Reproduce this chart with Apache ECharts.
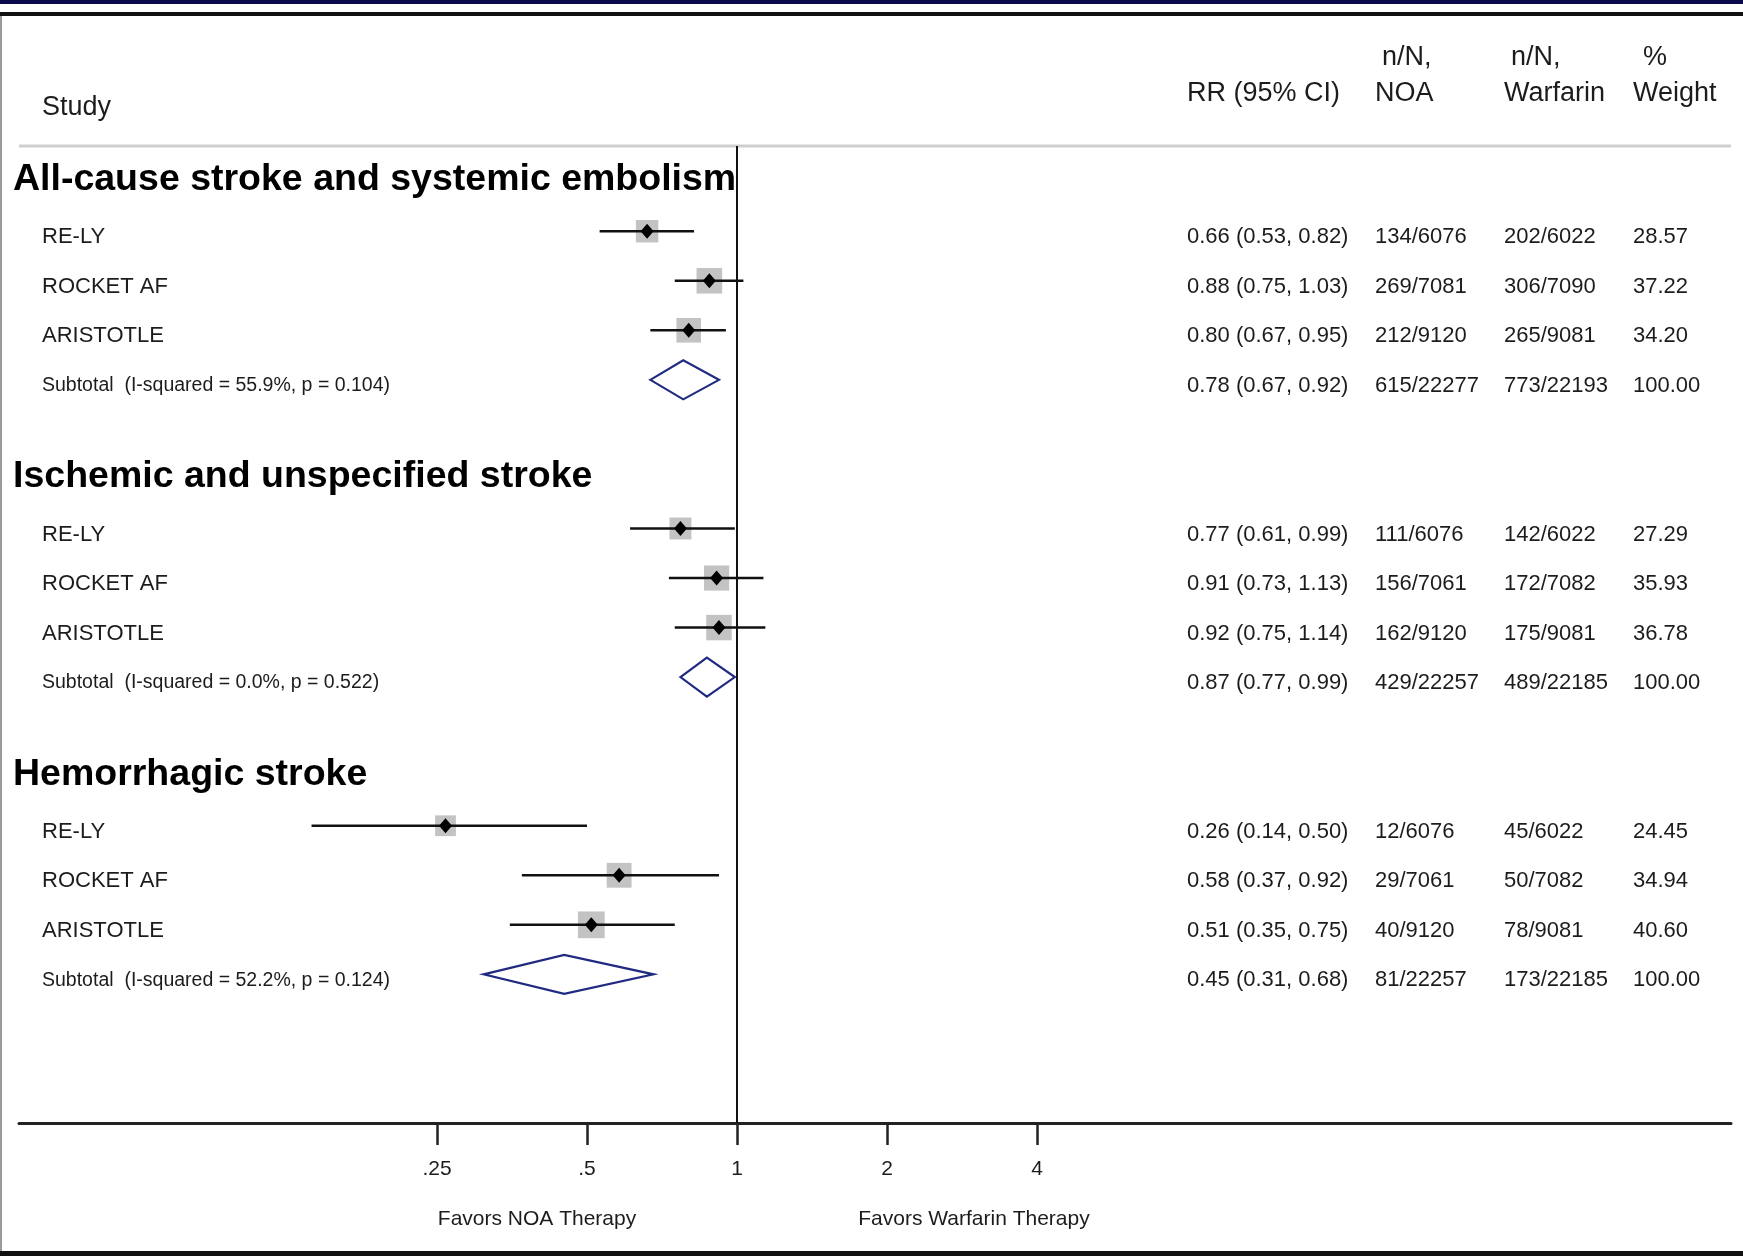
<!DOCTYPE html>
<html>
<head>
<meta charset="utf-8">
<title>NOA vs Warfarin: stroke outcomes</title>
<script src="https://cdn.jsdelivr.net/npm/echarts@6/dist/echarts.min.js"></script>
<style>
  html, body { margin: 0; padding: 0; background: #fff; }
  #chart { width: 1743px; height: 1256px; }
</style>
</head>
<body>
<div id="chart"></div>
<script>
// ---- data ----
const groupNames = [
  'All-cause stroke and systemic embolism',
  'Ischemic and unspecified stroke',
  'Hemorrhagic stroke'
];
const studyNames = ['RE-LY', 'ROCKET AF', 'ARISTOTLE'];

// relative risk with 95% CI, per outcome group then study
const rrValues = [[0.66, 0.88, 0.80], [0.77, 0.91, 0.92], [0.26, 0.58, 0.51]];
const rrLower  = [[0.53, 0.75, 0.67], [0.61, 0.73, 0.75], [0.14, 0.37, 0.35]];
const rrUpper  = [[0.82, 1.03, 0.95], [0.99, 1.13, 1.14], [0.50, 0.92, 0.75]];
const eventsNOA = [
  ['134/6076', '269/7081', '212/9120'],
  ['111/6076', '156/7061', '162/9120'],
  ['12/6076', '29/7061', '40/9120']
];
const eventsWarfarin = [
  ['202/6022', '306/7090', '265/9081'],
  ['142/6022', '172/7082', '175/9081'],
  ['45/6022', '50/7082', '78/9081']
];
const weights = [[28.57, 37.22, 34.20], [27.29, 35.93, 36.78], [24.45, 34.94, 40.60]];

// pooled subtotals
const subtotalRR    = [0.78, 0.87, 0.45];
const subtotalLower = [0.67, 0.77, 0.31];
const subtotalUpper = [0.92, 0.99, 0.68];
const subtotalNOA      = ['615/22277', '429/22257', '81/22257'];
const subtotalWarfarin = ['773/22193', '489/22185', '173/22185'];
const subtotalLabels = [
  'Subtotal  (I-squared = 55.9%, p = 0.104)',
  'Subtotal  (I-squared = 0.0%, p = 0.522)',
  'Subtotal  (I-squared = 52.2%, p = 0.124)'
];

const tickValues = [0.25, 0.5, 1, 2, 4];
const tickLabels = ['.25', '.5', '1', '2', '4'];

// ---- layout ----
const FONT = '"Liberation Sans", Arial, Helvetica, sans-serif';
const TEXT = '#1c1c1c';
const colX = [42, 1187, 1375, 1504, 1633];   // study, RR, NOA, warfarin, weight
const ROWS_PER_GROUP = 6;                    // 3 studies, subtotal, spacer, heading
const BOX_SCALE = 4.2;                       // box side = BOX_SCALE * sqrt(weight)

const fmt = v => v.toFixed(2);

// rows of the forest plot
const studyData = [];
const subtotalData = [];
const tableRows = [];
const headingData = [];
groupNames.forEach((g, gi) => {
  const base = gi * ROWS_PER_GROUP;
  headingData.push([1, base - 1, gi]);
  studyNames.forEach((s, si) => {
    const row = base + si;
    studyData.push([rrValues[gi][si], row, rrLower[gi][si], rrUpper[gi][si], weights[gi][si]]);
    tableRows.push({
      row: row, small: false,
      cells: [s,
        fmt(rrValues[gi][si]) + ' (' + fmt(rrLower[gi][si]) + ', ' + fmt(rrUpper[gi][si]) + ')',
        eventsNOA[gi][si], eventsWarfarin[gi][si], fmt(weights[gi][si])]
    });
  });
  const srow = base + 3;
  subtotalData.push([subtotalRR[gi], srow, subtotalLower[gi], subtotalUpper[gi]]);
  tableRows.push({
    row: srow, small: true,
    cells: [subtotalLabels[gi],
      fmt(subtotalRR[gi]) + ' (' + fmt(subtotalLower[gi]) + ', ' + fmt(subtotalUpper[gi]) + ')',
      subtotalNOA[gi], subtotalWarfarin[gi], '100.00']
  });
});

const chart = echarts.init(document.getElementById('chart'), null, { renderer: 'canvas' });

const headerText = (text, x, y) => ({
  type: 'text', x: x, y: y, silent: true,
  style: { text: text, fontSize: 27, fontFamily: FONT, fill: TEXT, verticalAlign: 'middle' }
});

chart.setOption({
  backgroundColor: '#fff',
  animation: false,
  grid: { left: 19, right: 12, top: 146, bottom: 133, containLabel: false },
  xAxis: {
    type: 'log',
    logBase: 2,
    min: Math.pow(2, -4.787),
    max: Math.pow(2, 6.627),
    axisLine: { onZero: false, lineStyle: { color: '#222', width: 3 } },
    axisTick: { customValues: tickValues, length: 22, lineStyle: { color: '#222', width: 2.5 } },
    axisLabel: {
      customValues: tickValues,
      margin: 36,
      fontSize: 21,
      fontFamily: FONT,
      color: TEXT,
      formatter: v => {
        const i = tickValues.findIndex(t => Math.abs(t - v) < 1e-6);
        return i >= 0 ? tickLabels[i] : '';
      }
    },
    splitLine: { show: false },
    minorTick: { show: false }
  },
  yAxis: {
    type: 'value', inverse: true, min: -1.72, max: 18, show: false
  },
  graphic: [
    // frame
    { type: 'rect', shape: { x: 0, y: 0, width: 1743, height: 4 }, style: { fill: '#0a0a4a' }, silent: true },
    { type: 'rect', shape: { x: 0, y: 12, width: 1743, height: 4 }, style: { fill: '#111' }, silent: true },
    { type: 'rect', shape: { x: 0, y: 1251, width: 1743, height: 5 }, style: { fill: '#111' }, silent: true },
    { type: 'rect', shape: { x: 0, y: 16, width: 2, height: 1235 }, style: { fill: '#9a9a9a' }, silent: true },
    // header rule
    { type: 'line', shape: { x1: 19, y1: 146, x2: 1731, y2: 146 }, style: { stroke: '#cfcfcf', lineWidth: 3 }, silent: true },
    // column headers
    headerText('Study', 42, 108),
    headerText('RR (95% CI)', 1187, 94),
    headerText('n/N,', 1382, 58),
    headerText('NOA', 1375, 94),
    headerText('n/N,', 1511, 58),
    headerText('Warfarin', 1504, 94),
    headerText('%', 1643, 58),
    headerText('Weight', 1633, 94),
    // direction captions under the axis
    { type: 'text', x: 537, y: 1219, silent: true,
      style: { text: 'Favors NOA Therapy', fontSize: 21, fontFamily: FONT, fill: TEXT, align: 'center', verticalAlign: 'middle' } },
    { type: 'text', x: 974, y: 1219, silent: true,
      style: { text: 'Favors Warfarin Therapy', fontSize: 21, fontFamily: FONT, fill: TEXT, align: 'center', verticalAlign: 'middle' } }
  ],
  series: [
    {
      // individual trials: weight box, CI whisker, point estimate
      name: 'Trials',
      type: 'custom',
      encode: { x: [0, 2, 3], y: 1 },
      data: studyData,
      renderItem: (params, api) => {
        const row = api.value(1);
        const p = api.coord([api.value(0), row]);
        const lo = api.coord([api.value(2), row]);
        const hi = api.coord([api.value(3), row]);
        const side = BOX_SCALE * Math.sqrt(api.value(4));
        const x = p[0], y = p[1];
        return {
          type: 'group',
          children: [
            { type: 'rect', shape: { x: x - side / 2, y: y - side / 2, width: side, height: side },
              style: { fill: '#c3c3c3' } },
            { type: 'line', shape: { x1: lo[0], y1: y, x2: hi[0], y2: y },
              style: { stroke: '#111', lineWidth: 2.5 } },
            { type: 'polygon', shape: { points: [[x, y - 7.5], [x + 6.5, y], [x, y + 7.5], [x - 6.5, y]] },
              style: { fill: '#000' } }
          ]
        };
      },
      markLine: {
        silent: true,
        symbol: 'none',
        label: { show: false },
        lineStyle: { color: '#111', width: 2, type: 'solid' },
        data: [{ xAxis: 1 }]
      },
      z: 3
    },
    {
      // pooled estimates as open diamonds
      name: 'Subtotal',
      type: 'custom',
      encode: { x: [0, 2, 3], y: 1 },
      data: subtotalData,
      renderItem: (params, api) => {
        const row = api.value(1);
        const p = api.coord([api.value(0), row]);
        const lo = api.coord([api.value(2), row]);
        const hi = api.coord([api.value(3), row]);
        const h = 19.5;
        return {
          type: 'polygon',
          shape: { points: [[lo[0], p[1]], [p[0], p[1] - h], [hi[0], p[1]], [p[0], p[1] + h]] },
          style: { fill: 'rgba(255,255,255,0)', stroke: '#1f2a80', lineWidth: 2.2 }
        };
      },
      z: 4
    },
    {
      // table columns
      name: 'Table',
      type: 'custom',
      encode: { x: 0, y: 1 },
      data: tableRows.map((r, i) => [1, r.row, i]),
      renderItem: (params, api) => {
        const r = tableRows[api.value(2)];
        const y = api.coord([1, api.value(1)])[1] + 6;
        return {
          type: 'group',
          children: r.cells.map((c, ci) => ({
            type: 'text',
            x: colX[ci],
            y: y,
            style: {
              text: c,
              fontSize: (ci === 0 && r.small) ? 19.5 : 22,
              fontFamily: FONT,
              fill: TEXT,
              align: 'left',
              verticalAlign: 'middle'
            }
          }))
        };
      },
      z: 5
    },
    {
      // outcome headings
      name: 'Headings',
      type: 'custom',
      encode: { x: 0, y: 1 },
      data: headingData,
      renderItem: (params, api) => {
        const y = api.coord([1, api.value(1)])[1] - 2;
        return {
          type: 'text',
          x: 13,
          y: y,
          style: {
            text: groupNames[api.value(2)],
            fontSize: 37.5,
            fontWeight: 'bold',
            fontFamily: FONT,
            fill: '#000',
            align: 'left',
            verticalAlign: 'middle'
          }
        };
      },
      z: 5
    }
  ]
});
</script>
</body>
</html>
